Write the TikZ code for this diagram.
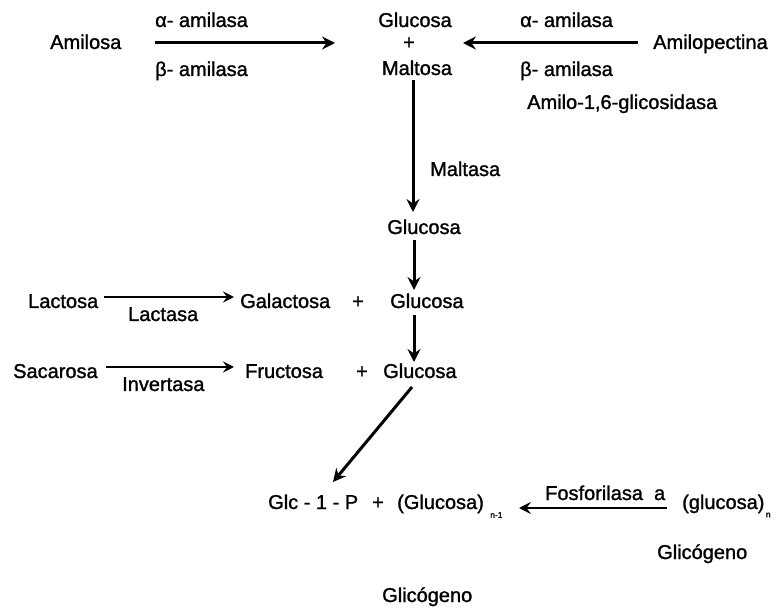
\documentclass[tikz,border=0pt]{standalone}
\usepackage{fontspec}
\setmainfont{Liberation Sans}
\newfontfamily\heavysans{Liberation Sans}[FakeBold=1.3]
\usetikzlibrary{arrows.meta}
\begin{document}
\begin{tikzpicture}[x=1pt,y=-1pt,
  lbl/.style={inner sep=0pt,anchor=west,font=\heavysans\fontsize{20}{24}\selectfont,text height=12pt,text depth=0pt},
  ctr/.style={lbl,anchor=center},
  sub/.style={inner sep=0pt,anchor=west,font=\heavysans\fontsize{8.5}{9}\selectfont},
  rx/.style={line width=3pt,-{Stealth[length=13pt,width=13pt,inset=4.5pt]}},
  rxthin/.style={line width=1.8pt,-{Stealth[length=11pt,width=11pt,inset=4pt]}}]
\useasboundingbox (0,0) rectangle (782,609);

% starch: amylose and amylopectin
\node[lbl] (amilosa) at (50,43) {Amilosa};
\node[lbl] (alfa1) at (155,21) {α- amilasa};
\node[lbl] (beta1) at (155,70) {β- amilasa};
\node[ctr] (gluc1) at (415,21) {Glucosa};
\node[ctr] (mas1) at (409,43) {+};
\node[ctr] (maltosa) at (417,69) {Maltosa};
\node[lbl] (alfa2) at (520,21) {α- amilasa};
\node[lbl] (beta2) at (520,70) {β- amilasa};
\node[lbl] (amilo) at (527,103) {Amilo-1,6-glicosidasa};
\node[lbl] (amilopec) at (653,43) {Amilopectina};
\coordinate (a1s) at (155,43);
\coordinate (a1e) at (335,43);
\coordinate (a2s) at (638,43);
\coordinate (a2e) at (463,43);
\draw[rx] (a1s) -- (a1e);
\draw[rx] (a2s) -- (a2e);

% maltose to glucose
\node[lbl] (maltasa) at (430,170) {Maltasa};
\node[ctr] (gluc2) at (424,228) {Glucosa};
\coordinate (v1s) at (413,80);
\coordinate (v1e) at (413,212);
\draw[rx] (v1s) -- (v1e);

% lactose
\node[lbl] (lactosa) at (28,302) {Lactosa};
\node[lbl] (lactasa) at (128,315) {Lactasa};
\node[lbl] (galac) at (240,302) {Galactosa};
\node[ctr] (mas2) at (358,302) {+};
\node[lbl] (gluc3) at (390,302) {Glucosa};
\coordinate (v2s) at (414,240);
\coordinate (v2e) at (414,290);
\draw[rx] (v2s) -- (v2e);
\coordinate (l1s) at (104,297);
\coordinate (l1e) at (234,297);
\draw[rxthin] (l1s) -- (l1e);

% sucrose
\node[lbl] (sacarosa) at (13,372) {Sacarosa};
\node[lbl] (invert) at (122,385) {Invertasa};
\node[lbl] (fruct) at (245,372) {Fructosa};
\node[ctr] (mas3) at (362,372) {+};
\node[lbl] (gluc4) at (383,372) {Glucosa};
\coordinate (v3s) at (414,315);
\coordinate (v3e) at (414,362);
\draw[rx] (v3s) -- (v3e);
\coordinate (s1s) at (106,367);
\coordinate (s1e) at (234,367);
\draw[rxthin] (s1s) -- (s1e);

% glucose to glucose-1-phosphate
\coordinate (dgs) at (412,387);
\coordinate (dge) at (333,482);
\draw[rx] (dgs) -- (dge);

% glycogen phosphorolysis
\node[lbl] (glc1p) at (268,503) {Glc - 1 - P};
\node[ctr] (mas4) at (378,503) {+};
\node[lbl] (glucn1) at (397,503) {(Glucosa)};
\node[sub] (subn1) at ([xshift=6pt,yshift=-6pt]glucn1.base east) {n-1};
\node[lbl] (fosfo) at (545,494) {Fosforilasa\ \ a};
\node[lbl] (glucn) at (682,503) {(glucosa)};
\node[sub] (subn) at ([xshift=1pt,yshift=-6pt]glucn.base east) {n};
\node[lbl] (glic1) at (657,553) {Glicógeno};
\node[lbl] (glic2) at (382,596) {Glicógeno};
\coordinate (fs) at (667,508);
\coordinate (fe) at (519,508);
\draw[line width=2.4pt,-{Stealth[length=12pt,width=12pt,inset=4.5pt]}] (fs) -- (fe);
\end{tikzpicture}
\end{document}
